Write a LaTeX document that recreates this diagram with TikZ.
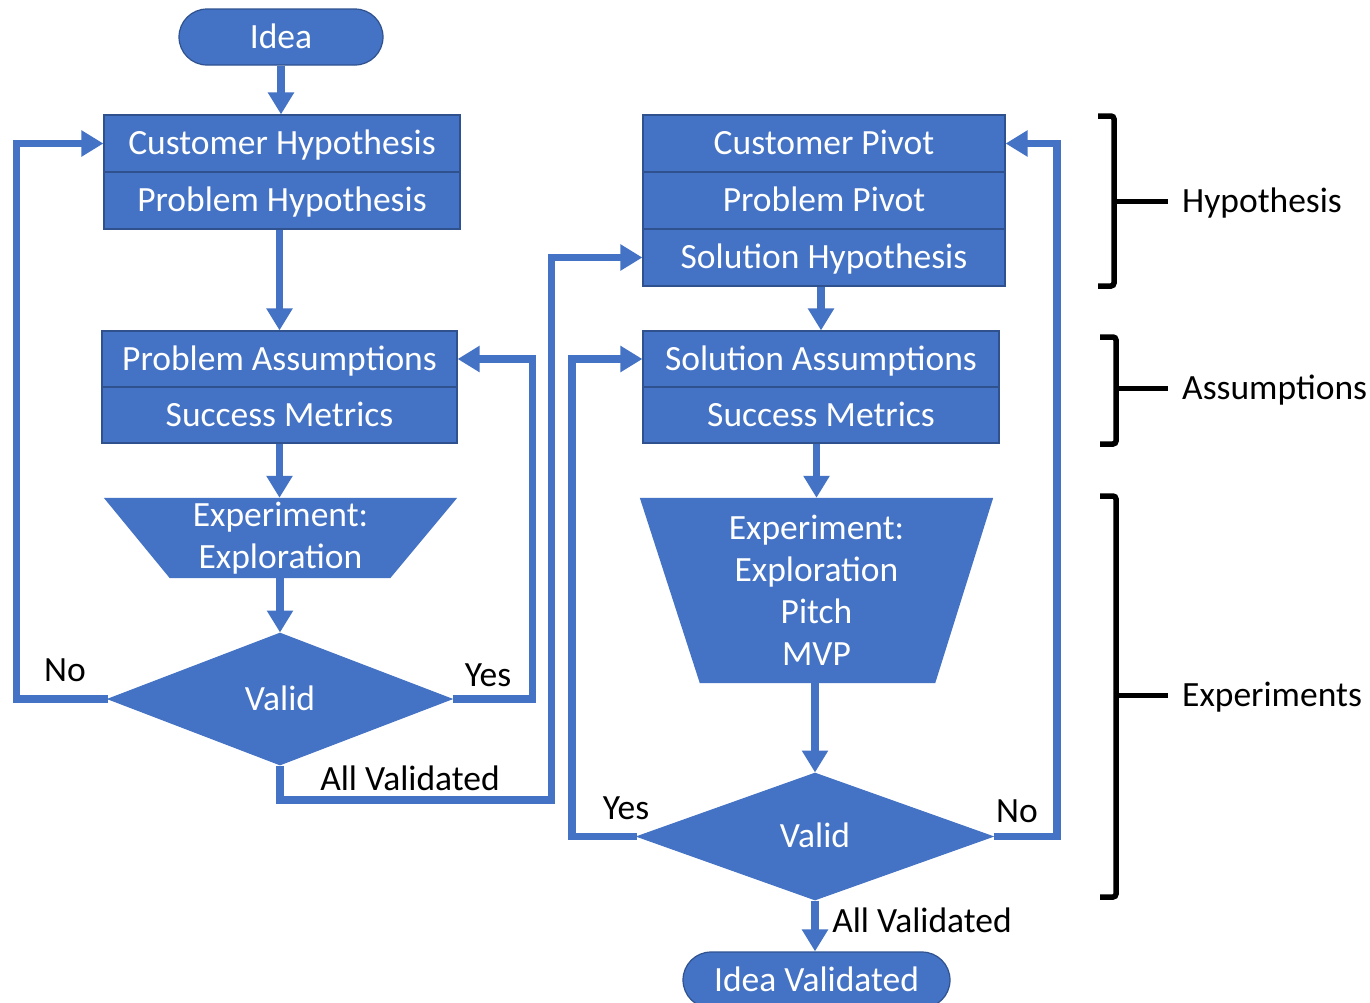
\documentclass[tikz,border=0pt]{standalone}
\usepackage{fontspec}
\setmainfont{Carlito}
\usetikzlibrary{arrows.meta,shapes.geometric,shapes.misc,backgrounds}
\definecolor{fillblue}{HTML}{4472C4}
\definecolor{edgeblue}{HTML}{2F528F}
\begin{document}
\begin{tikzpicture}[x=1pt,y=-1pt,
  txt/.style={font=\fontsize{35.5}{42}\selectfont, inner sep=0pt},
  lab/.style={txt, text=black, text height=22.9pt, text depth=0pt},
  row/.style={txt, rectangle, draw=edgeblue, line width=1.2pt, fill=fillblue, text=white,
              text height=22.9pt, text depth=0pt, minimum height=57pt},
  row2/.style={row, minimum height=56pt},
  term/.style={txt, rounded rectangle, draw=edgeblue, line width=1.2pt, fill=fillblue, text=white,
              text height=22.9pt, text depth=0pt},
  dec/.style={txt, diamond, draw=fillblue, line width=1pt, fill=fillblue, text=white,
              text height=22.9pt, text depth=0pt},
  trapbox/.style={txt, rectangle, text=white, align=center},
  conn/.style={draw=fillblue, line width=7.5pt, -{Triangle[width=25pt,length=22pt]}},
  brk/.style={draw=black, line width=5.5pt, rounded corners=3pt},
  tick/.style={draw=black, line width=5pt}]
\clip (0,0) rectangle (1370,1002);

% ---------- left column ----------
\node[term, minimum width=204pt, minimum height=56pt] (idea) at (281,37) {Idea};
\node[row, minimum width=356pt] (ch) at (282,143.5) {Customer Hypothesis};
\node[row, minimum width=356pt] (ph) at (282,200.5) {Problem Hypothesis};
\node[row2, minimum width=355pt] (pa) at (279.5,359) {Problem Assumptions};
\node[row2, minimum width=355pt] (sm1) at (279.5,415) {Success Metrics};
\node[trapbox, minimum width=353pt, minimum height=80pt] (ex1) at (280.5,538) {Experiment:\\Exploration};
\node[dec, minimum width=344pt, minimum height=132pt] (v1) at (280,699) {Valid};

% ---------- right column ----------
\node[row, minimum width=362pt] (cp) at (824,143.5) {Customer Pivot};
\node[row, minimum width=362pt] (pp) at (824,200.5) {Problem Pivot};
\node[row, minimum width=362pt] (sh) at (824,257.5) {Solution Hypothesis};
\node[row2, minimum width=356pt] (sa) at (821,359) {Solution Assumptions};
\node[row2, minimum width=356pt] (sm2) at (821,415) {Success Metrics};
\node[trapbox, minimum width=353pt, minimum height=185pt] (ex2) at (816.5,590.5) {Experiment:\\Exploration\\Pitch\\MVP};
\node[dec, minimum width=356pt, minimum height=127pt] (v2) at (815,836.5) {Valid};
\node[term, minimum width=267pt, minimum height=56pt] (iv) at (816.5,980) {Idea Validated};

\begin{scope}[on background layer]
  \fill[white] (0,0) rectangle (1370,1002);
  \fill[fillblue] (ex1.north west) -- (ex1.north east) -- ([xshift=-67pt]ex1.south east) -- ([xshift=66pt]ex1.south west) -- cycle;
  \fill[fillblue] (ex2.north west) -- (ex2.north east) -- ([xshift=-58pt]ex2.south east) -- ([xshift=60pt]ex2.south west) -- cycle;
\end{scope}

% ---------- main flow ----------
\draw[conn] (idea.south) -- (idea.south |- ch.north);
\draw[conn] (ph.south -| pa.north) -- (pa.north);
\draw[conn] (sm1.south) -- (sm1.south |- ex1.north);
\draw[conn] (ex1.south -| v1.north) -- (v1.north);
\draw[conn] (sh.south -| sa.north) -- (sa.north);
\draw[conn] (sm2.south -| ex2.north) -- (ex2.north);
\draw[conn] (ex2.south -| v2.north) -- (v2.north);
\draw[conn] (v2.south) -- (v2.south |- iv.north);

% ---------- loops ----------
\draw[conn] (v1.west) -- (16.5,699) |- (ch.west);
\draw[conn] (v1.east) -- (532.5,699) |- (pa.east);
\draw[conn] (v1.south) |- (551.5,800) |- (sh.west);
\draw[conn] (v2.west) -- (572,836.5) |- (sa.west);
\draw[conn] (v2.east) -- (1057,836.5) |- (cp.east);

% ---------- labels ----------
\node[lab] (no1) at (65,670) {No};
\node[lab] (yes1) at (488,675) {Yes};
\node[lab] (av1) at (410,779) {All Validated};
\node[lab] (yes2) at (626,808) {Yes};
\node[lab] (no2) at (1017,811) {No};
\node[lab] (av2) at (922,921) {All Validated};

% ---------- brackets ----------
\node[lab, anchor=west] (hyp) at (1182,201) {Hypothesis};
\node[lab, anchor=west] (asm) at (1182,388) {Assumptions};
\node[lab, anchor=west] (exp) at (1182,695) {Experiments};
\draw[brk] (1098,116) -- (1114,116) -- (1114,286) -- (1098,286);
\draw[tick] (1114,201) -- ([xshift=-14pt]hyp.west);
\draw[brk] (1100,337) -- (1116,337) -- (1116,444) -- (1100,444);
\draw[tick] (1116,388) -- ([xshift=-14pt]asm.west);
\draw[brk] (1100,496) -- (1116,496) -- (1116,897) -- (1100,897);
\draw[tick] (1116,695) -- ([xshift=-14pt]exp.west);
\end{tikzpicture}
\end{document}
